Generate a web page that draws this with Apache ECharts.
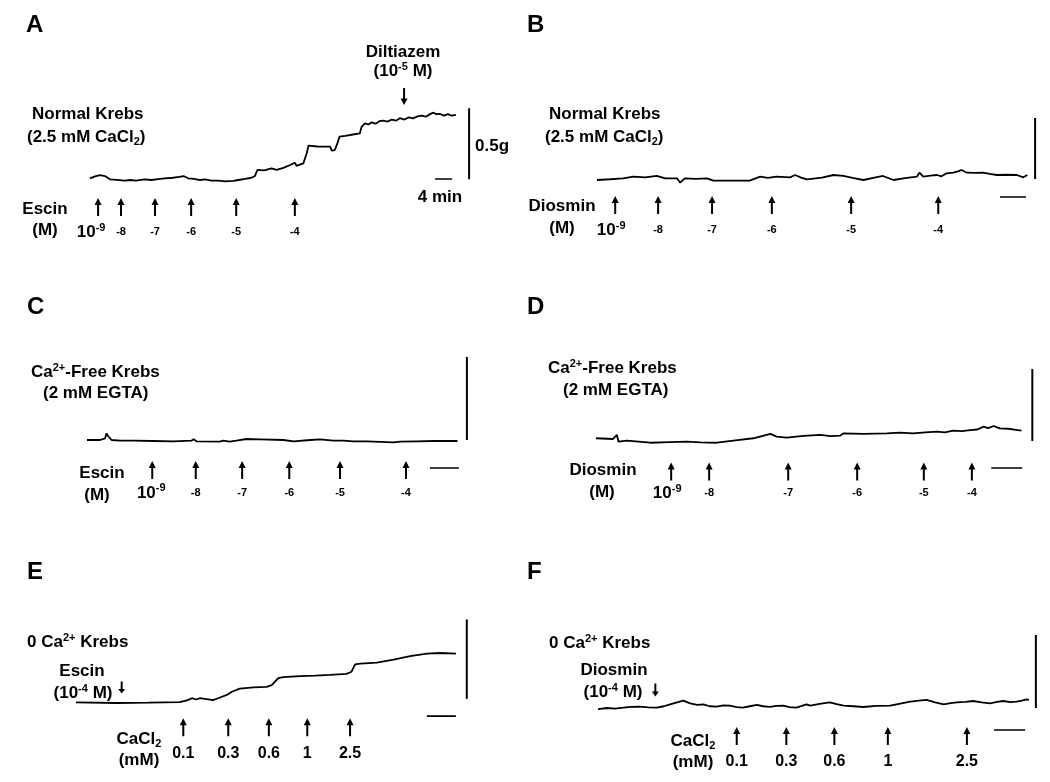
<!DOCTYPE html>
<html><head><meta charset="utf-8">
<script src="https://cdn.jsdelivr.net/npm/echarts@6.0.0/dist/echarts.min.js"></script>
<style>html,body{margin:0;padding:0;background:#fff}#c{width:1050px;height:782px}</style>
</head><body><div id="c"></div><script>
// ---- Data (time in min, tension in g) ----
const traceA = [[0,0.026],[1.2,0.04],[2.35,0.049],[3.5,0.042],[4.7,0.019],[6.2,0.015],[8.2,0.009],[9.5,0.014],[10.8,0.01],[12.9,0.019],[14.5,0.014],[16,0.02],[17.6,0.026],[19.5,0.03],[21,0.036],[22.0,0.042],[23.1,0.026],[24.5,0.022],[25.9,0.014],[27.1,0.019],[28.6,0.01],[30.2,0.009],[31.8,0.004],[33.7,0.008],[34.9,0.014],[36.5,0.022],[38.0,0.03],[38.8,0.042],[39.4,0.085],[41.0,0.082],[42.7,0.096],[43.9,0.085],[45.5,0.1],[47.1,0.12],[48.2,0.136],[48.6,0.113],[50.2,0.131],[51.0,0.202],[51.4,0.256],[53.5,0.25],[56.5,0.249],[56.9,0.221],[57.6,0.225],[58.2,0.272],[58.7,0.319],[60,0.325],[61.2,0.331],[63.5,0.343],[63.9,0.389],[64.7,0.413],[65.5,0.405],[66.3,0.42],[67.2,0.41],[68.1,0.428],[69.0,0.432],[70,0.425],[71,0.44],[72,0.432],[72.9,0.449],[74,0.44],[75,0.455],[76,0.448],[76.9,0.46],[78,0.468],[79,0.46],[80,0.478],[80.8,0.488],[81.5,0.478],[82.4,0.479],[83.3,0.468],[84.2,0.478],[85.1,0.468],[86.1,0.472]];
const traceB = [[0,0],[2,0.006],[4.0,0.014],[5.6,0.027],[7.4,0.022],[9.2,0.033],[10.5,0.014],[12.3,0.014],[12.8,-0.022],[13.5,0.014],[15.2,0.01],[16.9,0.014],[17.9,-0.005],[20.5,-0.005],[23.5,-0.005],[25.1,0.027],[26.3,0.018],[27.6,0.027],[29.7,0.022],[30.5,0.041],[31.4,0.02],[32.3,0.005],[34.6,0.02],[36.4,0.041],[37.9,0.033],[39.5,0.015],[41.0,0],[42.5,0.018],[44.0,0.033],[45.6,0],[47.4,0.015],[49.2,0.027],[49.6,0.06],[50.2,0.027],[51.3,0.035],[52.3,0.041],[53.0,0.03],[53.8,0.055],[54.8,0.06],[55.5,0.07],[56.1,0.082],[56.9,0.06],[58.2,0.058],[59.4,0.06],[60.4,0.05],[61.5,0.041],[63,0.043],[64.6,0.041],[65.6,0.022],[66.2,0.041]];
const traceC = [[0,0],[1.8,0],[2.5,0.010],[2.7,0.040],[2.9,0.024],[3.4,0],[4.6,-0.004],[6.4,-0.004],[9.1,-0.006],[11.9,-0.008],[14.4,-0.004],[14.7,0.004],[15.1,-0.008],[18.3,-0.010],[18.8,-0.004],[19.7,-0.010],[20.6,-0.004],[22.0,0.006],[23.9,0.004],[27.1,0],[28.5,-0.008],[30.8,0],[32.1,0.004],[34.0,-0.004],[35.4,-0.004],[36.7,-0.008],[38.6,-0.008],[42.3,-0.014],[43.2,-0.010],[45.5,-0.008],[47.8,-0.006],[51.1,-0.006]];
const traceD = [[0,0.019],[2.2,0.014],[2.7,0.042],[2.9,-0.005],[4.0,0.002],[7.0,-0.012],[9.5,-0.008],[11.7,-0.005],[13.5,-0.01],[15.6,-0.012],[18,0.005],[20.3,0.019],[22.5,0.049],[23.3,0.030],[24.6,0.023],[26.8,0.035],[28.9,0.042],[30.3,0.034],[31.5,0.037],[31.9,0.053],[34.5,0.05],[37.5,0.053],[39.2,0.058],[40.9,0.053],[42.5,0.06],[44.0,0.065],[45.0,0.06],[46.1,0.072],[47.2,0.068],[48.3,0.076],[49.2,0.08],[50.0,0.10],[50.6,0.09],[51.3,0.104],[52.1,0.088],[53.2,0.085],[54.2,0.078],[54.9,0.072]];
const traceE = [[0,0.002],[5.6,-0.002],[10,0.0],[14.3,0.004],[15.3,0.014],[16.0,0.028],[16.6,0.02],[17.1,0.028],[18.9,0.016],[19.6,0.028],[20.8,0.049],[21.5,0.069],[22.6,0.089],[24.5,0.096],[26.3,0.10],[27.0,0.11],[27.9,0.154],[28.6,0.161],[30.9,0.167],[33,0.17],[35,0.175],[37.3,0.181],[38.0,0.195],[38.5,0.242],[39.2,0.246],[41.5,0.252],[43.8,0.272],[46.1,0.293],[48.4,0.309],[50.2,0.313],[52.4,0.309]];
const traceF = [[0,-0.007],[1.2,0.0],[2.2,-0.004],[3.3,0.002],[4.3,0.008],[5.4,0.009],[6.5,0.004],[7.6,0.002],[8.5,0.012],[9.3,0.025],[10.2,0.039],[11.0,0.05],[11.5,0.04],[11.9,0.032],[12.8,0.022],[13.6,0.025],[14.4,0.012],[15.3,0.009],[16.2,0.018],[17.0,0.016],[17.9,0.006],[18.7,0.002],[19.6,0.012],[20.5,0.021],[21.3,0.012],[22.2,0.007],[23.0,0.014],[23.9,0.016],[24.7,0.006],[25.6,0.002],[26.3,0.014],[26.9,0.025],[27.4,0.016],[28.6,0.028],[29.9,0.039],[30.8,0.026],[31.7,0.016],[33.0,0.012],[34.2,0.007],[35.9,0.014],[37.7,0.016],[39.0,0.03],[40.3,0.043],[41.4,0.05],[42.4,0.055],[43.5,0.038],[44.6,0.025],[45.5,0.034],[46.3,0.039],[47.4,0.042],[48.4,0.048],[49.5,0.038],[50.6,0.032],[51.5,0.042],[52.3,0.048],[53.2,0.04],[54.0,0.043],[54.7,0.05],[55.3,0.059],[55.6,0.055]];

// addition times (min)
const additionsA = [1.9,7.3,15.3,23.8,34.4,48.2];
const additionsB = [2.8,9.4,17.7,26.9,39.1,52.5];
const additionsC = [9.0,15.0,21.4,27.9,34.9,44.0];
const additionsD = [9.7,14.6,24.8,33.7,42.3,48.5];
const additionsE = [14.8,21.0,26.6,31.9,37.8];
const additionsF = [17.9,24.3,30.5,37.4,47.6];
// tick labels
const logDoseLabels = ['10^-9','-8','-7','-6','-5','-4'];
const cacl2Labels = ['0.1','0.3','0.6','1','2.5'];
// pretreatment additions (min)
const diltiazemTimeA = 73.9;
const escinTimeE = 6.3;
const diosminTimeF = 7.4;
// calibration
const SCALE_G = 0.5;
const SCALE_MIN = 4;

// ---- Layout ----
const FONT = '"Liberation Sans", Arial, Helvetica, sans-serif';
const panels = [
 {trace:traceA, add:additionsA, labels:logDoseLabels, x0:90, y0:182, ppm:4.25, ppg:142, xMax:100, yMin:-0.4, yMax:1.0, arrowG:-0.176, labelG:-0.352, off:-7, vbar:[89.2,0.02], hbar:[81.2,0.021], pre:{t:diltiazemTimeA,g:0.602,h:17}},
 {trace:traceB, add:additionsB, labels:logDoseLabels, x0:597, y0:180, ppm:6.5, ppg:122, xMax:68, yMin:-0.6, yMax:1.2, arrowG:-0.205, labelG:-0.41, off:-4, vbar:[67.4,0.008], hbar:[62.0,-0.139]},
 {trace:traceC, add:additionsC, labels:logDoseLabels, x0:87, y0:440, ppm:7.25, ppg:166, xMax:60, yMin:-0.5, yMax:1.2, arrowG:-0.181, labelG:-0.319, off:-1, vbar:[52.4,0], hbar:[47.3,-0.169]},
 {trace:traceD, add:additionsD, labels:logDoseLabels, x0:596, y0:441, ppm:7.75, ppg:144, xMax:58, yMin:-0.5, yMax:1.2, arrowG:-0.212, labelG:-0.361, off:-4, vbar:[56.3,0], hbar:[51.0,-0.1875]},
 {trace:traceE, add:additionsE, labels:cacl2Labels, x0:76, y0:708, ppm:7.25, ppg:164, xMax:60, yMin:-0.5, yMax:1.0, arrowG:-0.155, labelG:-0.323, off:0, vbar:[53.9,0.024], hbar:[48.4,-0.085], pre:{t:escinTimeE,g:0.095,h:12}},
 {trace:traceF, add:additionsF, labels:cacl2Labels, x0:598, y0:708, ppm:7.75, ppg:146, xMax:58, yMin:-0.5, yMax:1.0, arrowG:-0.192, labelG:-0.37, off:0, vbar:[56.5,0], hbar:[51.1,-0.151], pre:{t:diosminTimeF,g:0.123,h:13}}
];

const ARROW = 'path://M3.5,0 L7,7 L4.5,7 L4.5,18 L2.5,18 L2.5,7 L0,7 Z';
const base = {fontWeight:'bold', fontFamily:FONT, color:'#000', textBorderWidth:0};
const rich = {
  b:Object.assign({fontSize:17,lineHeight:20},base),
  big:Object.assign({fontSize:17,lineHeight:20},base),
  sup:Object.assign({fontSize:11,verticalAlign:'top',lineHeight:12},base),
  sub:Object.assign({fontSize:11,verticalAlign:'bottom',lineHeight:11},base),
  s:Object.assign({fontSize:11},base),
  m:Object.assign({fontSize:16},base),
  L:Object.assign({fontSize:24},base)
};
function fmtDose(s){
  if (s.indexOf('10^')===0) return '{big|10}{sup|'+s.slice(3)+'}';
  if (s.charAt(0)==='-') return '{s|'+s+'}';
  return '{m|'+s+'}';
}

const grid=[], xAxis=[], yAxis=[], series=[];
const common = {animation:false, silent:true};
panels.forEach((p,i)=>{
  grid.push({left:p.x0, top:p.y0 - p.yMax*p.ppg, width:p.xMax*p.ppm, height:(p.yMax-p.yMin)*p.ppg});
  xAxis.push({type:'value', gridIndex:i, min:0, max:p.xMax, show:false});
  yAxis.push({type:'value', gridIndex:i, min:p.yMin, max:p.yMax, show:false});
  const ax = {xAxisIndex:i, yAxisIndex:i};
  series.push(Object.assign({type:'line', data:p.trace, showSymbol:false, symbol:'none',
    lineStyle:{color:'#000', width:1.8, opacity:1}}, ax, common));
  series.push(Object.assign({type:'scatter', data:p.add.map(t=>[t,p.arrowG]),
    symbol:ARROW, symbolSize:[7,18], itemStyle:{color:'#000', opacity:1}}, ax, common));
  series.push(Object.assign({type:'scatter',
    data:p.add.map((t,k)=>({value:[t,p.labelG], name:p.labels[k], label:{offset:[k===0?p.off:0,0]}})),
    symbolSize:1, itemStyle:{color:'rgba(0,0,0,0)', opacity:1},
    label:{show:true, position:'inside', color:'#000', textBorderWidth:0, opacity:1, formatter:d=>fmtDose(d.name), rich:rich}}, ax, common));
  series.push(Object.assign({type:'line', data:[[p.vbar[0],p.vbar[1]],[p.vbar[0],p.vbar[1]+SCALE_G]],
    showSymbol:false, symbol:'none', lineStyle:{color:'#000', width:2}}, ax, common));
  series.push(Object.assign({type:'line', data:[[p.hbar[0],p.hbar[1]],[p.hbar[0]+SCALE_MIN,p.hbar[1]]],
    showSymbol:false, symbol:'none', lineStyle:{color:'#000', width:1.6}}, ax, common));
  if (p.pre) {
    series.push(Object.assign({type:'scatter', data:[[p.pre.t,p.pre.g]],
      symbol:ARROW, symbolRotate:180, symbolSize:[7,p.pre.h], itemStyle:{color:'#000', opacity:1}}, ax, common));
  }
});

function T(x,y,text,align){
  return {type:'text', x:x, y:y, silent:true,
    style:{text:text, align:align||'left', verticalAlign:'middle', rich:rich, fill:'#000',
      fontSize:17, fontWeight:'bold', fontFamily:FONT}};
}
const graphic = [
  T(26,25,'{L|A}'), T(527,25,'{L|B}'), T(27,307,'{L|C}'), T(527,307,'{L|D}'), T(27,572,'{L|E}'), T(527,572,'{L|F}'),
  // A
  T(32,114,'{b|Normal Krebs}'), T(27,137,'{b|(2.5 mM CaCl}{sub|2}{b|)}'),
  T(403,52,'{b|Diltiazem}','center'), T(403,71,'{b|(10}{sup|-5}{b| M)}','center'),
  T(45,209,'{b|Escin}','center'), T(45,230,'{b|(M)}','center'),
  T(475,146,'{b|0.5g}'), T(440,197,'{b|4 min}','center'),
  // B
  T(549,114,'{b|Normal Krebs}'), T(545,137,'{b|(2.5 mM CaCl}{sub|2}{b|)}'),
  T(562,206,'{b|Diosmin}','center'), T(562,228,'{b|(M)}','center'),
  // C
  T(31,372,'{b|Ca}{sup|2+}{b|-Free Krebs}'), T(43,393,'{b|(2 mM EGTA)}'),
  T(102,473,'{b|Escin}','center'), T(97,495,'{b|(M)}','center'),
  // D
  T(548,368,'{b|Ca}{sup|2+}{b|-Free Krebs}'), T(563,390,'{b|(2 mM EGTA)}'),
  T(603,470,'{b|Diosmin}','center'), T(602,492,'{b|(M)}','center'),
  // E
  T(27,642,'{b|0 Ca}{sup|2+}{b| Krebs}'), T(82,671,'{b|Escin}','center'), T(83,693,'{b|(10}{sup|-4}{b| M)}','center'),
  T(139,739,'{b|CaCl}{sub|2}','center'), T(139,760,'{b|(mM)}','center'),
  // F
  T(549,643,'{b|0 Ca}{sup|2+}{b| Krebs}'), T(614,670,'{b|Diosmin}','center'), T(613,692,'{b|(10}{sup|-4}{b| M)}','center'),
  T(693,741,'{b|CaCl}{sub|2}','center'), T(693,762,'{b|(mM)}','center')
];

const chart = echarts.init(document.getElementById('c'), null, {renderer:'canvas'});
chart.setOption({backgroundColor:'#fff', animation:false, grid, xAxis, yAxis, series, graphic});
</script></body></html>
